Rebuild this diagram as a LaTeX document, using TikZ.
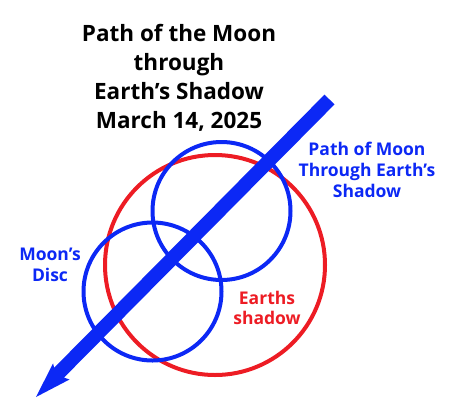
\documentclass[tikz,border=0pt]{standalone}
\usepackage{fontspec}
\setmainfont{Open Sans}
\definecolor{mblue}{RGB}{12,40,245}
\definecolor{mred}{RGB}{237,28,36}
\begin{document}
\begin{tikzpicture}[x=1pt,y=-1pt,
  ring/.style={line width=4pt},
  title/.style={font=\bfseries\fontsize{22.5}{29}\selectfont, align=center, inner sep=0pt, text=black},
  bluelabel/.style={font=\bfseries\fontsize{17.5}{21}\selectfont, align=center, inner sep=0pt, text=mblue},
  redlabel/.style={font=\bfseries\fontsize{17.5}{20}\selectfont, align=center, inner sep=0pt, text=mred},
  patharrow/.style={fill=mblue}]
\useasboundingbox (0,0) rectangle (449,408);
% circles
\draw[ring, mred] (215,265) circle (110pt);
\draw[ring, mblue] (221.5,211) circle (69pt);
\draw[ring, mblue] (152.5,291.5) circle (69pt);
% arrow
\coordinate (tailA) at (334.5,104.4);
\coordinate (tailB) at (324.5,94.6);
\coordinate (notchA) at (64.0,377.6);
\coordinate (barbA) at (69.5,379.5);
\coordinate (tip) at (36,397);
\coordinate (barbB) at (53.1,363.3);
\coordinate (notchB) at (54.1,367.8);
\fill[patharrow] (tailB) -- (tailA) -- (notchA) -- (barbA) -- (tip) -- (barbB) -- (notchB) -- cycle;
% labels
\node[title, anchor=north] (t) at (179,24) {Path of the Moon\\through\\Earth’s Shadow\\March 14, 2025};
\node[bluelabel, anchor=north] (p) at (367,142) {Path of Moon\\Through Earth’s\\Shadow};
\node[bluelabel, anchor=north] (m) at (50,248) {Moon’s\\Disc};
\node[redlabel, anchor=north] (e) at (267,291) {Earths\\shadow};
\end{tikzpicture}
\end{document}
